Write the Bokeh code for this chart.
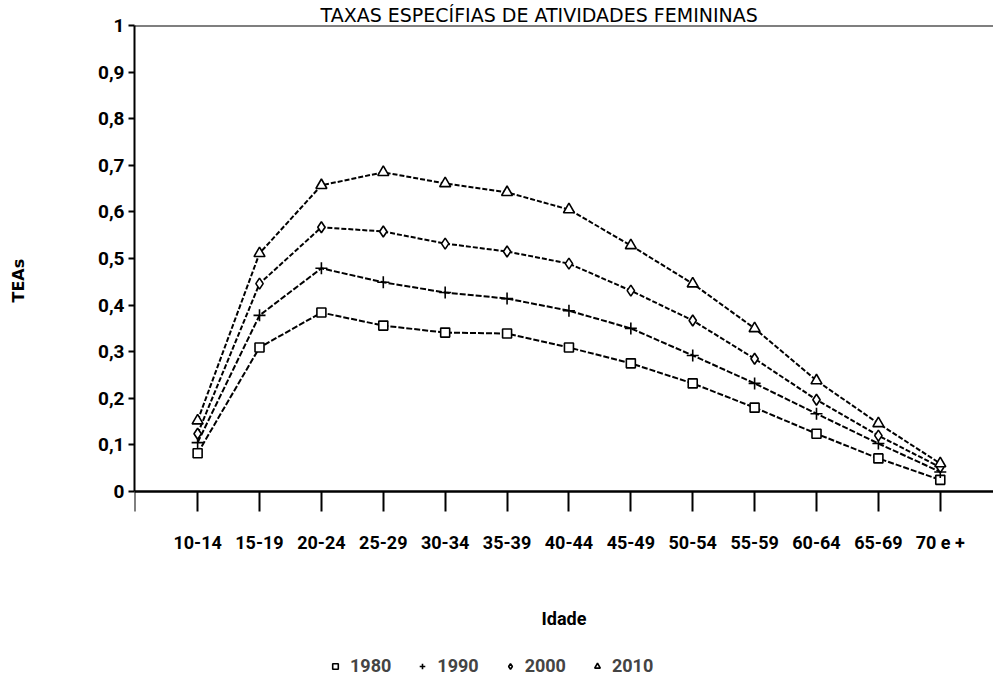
from bokeh.plotting import figure
from bokeh.models import Range1d, FixedTicker, Span, Legend, LegendItem, Title
from bokeh.embed import file_html
from bokeh.resources import INLINE

# ---------------- data ----------------
categories = ["10-14", "15-19", "20-24", "25-29", "30-34", "35-39", "40-44",
              "45-49", "50-54", "55-59", "60-64", "65-69", "70 e +"]
years = ["1980", "1990", "2000", "2010"]
teas_1980 = [0.082, 0.309, 0.384, 0.356, 0.341, 0.339, 0.309, 0.275, 0.232, 0.180, 0.124, 0.071, 0.025]
teas_1990 = [0.105, 0.378, 0.479, 0.449, 0.427, 0.414, 0.388, 0.350, 0.292, 0.232, 0.167, 0.103, 0.042]
teas_2000 = [0.124, 0.446, 0.567, 0.558, 0.532, 0.515, 0.489, 0.431, 0.367, 0.285, 0.197, 0.120, 0.052]
teas_2010 = [0.152, 0.511, 0.657, 0.685, 0.661, 0.642, 0.605, 0.528, 0.446, 0.350, 0.238, 0.146, 0.060]
y_tick_values = [0, 0.1, 0.2, 0.3, 0.4, 0.5, 0.6, 0.7, 0.8, 0.9, 1]
y_tick_labels = ["0", "0,1", "0,2", "0,3", "0,4", "0,5", "0,6", "0,7", "0,8", "0,9", "1"]
title_text = "TAXAS ESPECÍFIAS DE ATIVIDADES FEMININAS"
x_title = "Idade"
y_title = "TEAs"

FONT = "Roboto"
idx = list(range(len(categories)))
x_start, x_end = -1.02, 12.86
y_start, y_end = -0.4034, 1.0   # frame reaches the bottom edge; y = 0 sits at 491 px

p = figure(width=993, height=679, output_backend="svg", toolbar_location=None,
           x_range=Range1d(x_start, x_end), y_range=Range1d(y_start, y_end),
           min_border_left=134, min_border_right=0, min_border_top=25,
           min_border_bottom=0)
p.outline_line_color = None
p.grid.visible = False
p.background_fill_color = "white"
p.border_fill_color = "white"

# title
p.title.text = title_text
p.title.text_font = "DejaVu Sans"
p.title.text_font_size = "19px"
p.title.text_font_style = "normal"
p.title.text_color = "black"
p.title.align = "left"
p.title.offset = 186
p.title.standoff = 0

# x axis (drawn at y = 0)
xa = p.xaxis[0]
xa.fixed_location = 0
xa.ticker = FixedTicker(ticks=[x_start] + idx)
ov = {i: c for i, c in zip(idx, categories)}
ov[x_start] = ""
xa.major_label_overrides = ov
xa.major_tick_out = 20
xa.major_tick_in = 0
xa.minor_tick_out = 0
xa.minor_tick_in = 0
xa.axis_line_width = 2.5
xa.major_tick_line_width = 2
xa.major_label_standoff = 20
xa.major_label_text_font = FONT
xa.major_label_text_font_size = "18px"
xa.major_label_text_font_style = "bold"
xa.major_label_text_color = "black"
xa.axis_label = x_title
xa.axis_label_text_font = FONT
xa.axis_label_text_font_size = "18px"
xa.axis_label_text_font_style = "bold"
xa.axis_label_text_color = "black"
xa.axis_label_standoff = 52

# y axis
ya = p.yaxis[0]
ya.bounds = (0, 1)
ya.ticker = FixedTicker(ticks=y_tick_values)
ya.major_label_overrides = {v: l for v, l in zip(y_tick_values, y_tick_labels)}
ya.major_tick_out = 6
ya.major_tick_in = 0
ya.minor_tick_out = 0
ya.minor_tick_in = 0
ya.axis_line_width = 2
ya.major_tick_line_width = 2
ya.major_label_standoff = 4
ya.major_label_text_font = FONT
ya.major_label_text_font_size = "19px"
ya.major_label_text_font_style = "bold"
ya.major_label_text_color = "black"

# spacer in the left panel, then the vertical "TEAs" title at the outer edge
p.add_layout(Title(text=" ", standoff=48, text_font="DejaVu Sans",
                   text_font_size="14px"), "left")
p.add_layout(Title(text=y_title, align="left", offset=377, standoff=0,
                   vertical_align="top",
                   text_font="DejaVu Sans", text_font_size="16px",
                   text_font_style="bold", text_color="black"), "left")

# top border line
p.add_layout(Span(location=1, dimension="width", line_color="black", line_width=2))

# series
series = [teas_1980, teas_1990, teas_2000, teas_2010]
markers = ["square", "cross", "diamond", "triangle"]
sizes = [9, 12, 11, 11]
dashes = ["6 2", "6 2", "5 2", "5 2"]
items = []
for name, vals, mk, sz, dsh in zip(years, series, markers, sizes, dashes):
    p.line(idx, vals, line_color="black", line_width=2, line_dash=dsh)
    r = p.scatter(idx, vals, marker=mk, size=sz, line_color="black",
                  line_width=1.6, fill_color="white")
    items.append(LegendItem(label=name, renderers=[r]))

legend = Legend(items=items, orientation="horizontal", location=(194, 3),
                border_line_color=None, background_fill_alpha=0,
                padding=2, margin=0, spacing=24, label_standoff=8,
                glyph_width=14, glyph_height=20,
                label_text_font=FONT, label_text_font_size="18px",
                label_text_font_style="bold")
p.add_layout(legend)

open("out.html", "w").write(file_html(p, INLINE))
